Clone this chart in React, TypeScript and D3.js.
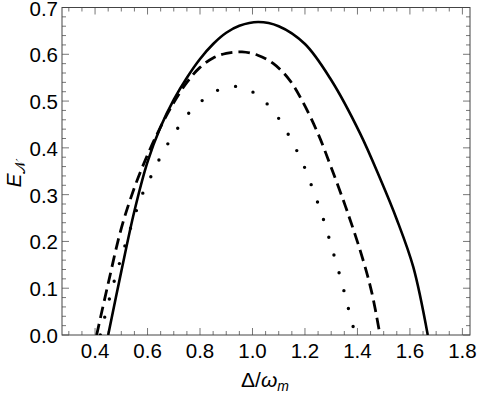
import React, { useEffect, useRef } from 'react';
import * as d3 from 'd3';

// curves: x = Δ/ωm, y = E_N
const solidX = [0.45, 0.5, 0.55, 0.6, 0.65, 0.7, 0.75, 0.8, 0.85, 0.9, 0.95, 1.022, 1.1, 1.2, 1.3, 1.41, 1.486, 1.55, 1.613, 1.668];
const solidY = [0, 0.136, 0.265, 0.37, 0.445, 0.503, 0.55, 0.59, 0.622, 0.646, 0.661, 0.669, 0.66, 0.622, 0.545, 0.431, 0.335, 0.247, 0.145, 0];

const dashedX = [0.406, 0.45, 0.5, 0.55, 0.6, 0.65, 0.7, 0.75, 0.8, 0.85, 0.9, 0.96, 1.02, 1.08, 1.14, 1.19, 1.25, 1.3, 1.36, 1.42, 1.455, 1.486];
const dashedY = [0, 0.11, 0.228, 0.315, 0.385, 0.445, 0.497, 0.54, 0.572, 0.592, 0.602, 0.605, 0.598, 0.58, 0.546, 0.5, 0.43, 0.358, 0.266, 0.163, 0.09, 0];

const dottedX = [0.42, 0.455, 0.495, 0.584, 0.616, 0.648, 0.682, 0.72, 0.762, 0.815, 0.876, 0.944, 1.011, 1.064, 1.107, 1.143, 1.175, 1.204, 1.229, 1.253, 1.275, 1.295, 1.315, 1.334, 1.352, 1.369, 1.392];
const dottedY = [0, 0.078, 0.157, 0.306, 0.342, 0.379, 0.413, 0.446, 0.477, 0.504, 0.525, 0.531, 0.516, 0.489, 0.457, 0.422, 0.387, 0.351, 0.313, 0.276, 0.239, 0.201, 0.162, 0.125, 0.087, 0.049, 0];

const xTicks = [0.4, 0.6, 0.8, 1.0, 1.2, 1.4, 1.6, 1.8];
const yTicks = [0.0, 0.1, 0.2, 0.3, 0.4, 0.5, 0.6, 0.7];

export default function App() {
    const svgRef = useRef<SVGSVGElement | null>(null);

    useEffect(() => {
        if (!svgRef.current) return;
        const svg = d3.select(svgRef.current);
        svg.selectAll('*').remove();

        const width = 477;
        const height = 393;
        const margin = { top: 7.5, right: 7, bottom: 58, left: 62 };
        const font = 'Liberation Sans, Arial, sans-serif';

        const x = d3.scaleLinear().domain([0.274, 1.829]).range([margin.left, width - margin.right]);
        const y = d3.scaleLinear().domain([0, 0.7]).range([height - margin.bottom, margin.top]);

        const x0 = margin.left, x1 = width - margin.right;
        const y0 = height - margin.bottom, y1 = margin.top;

        // clip
        svg.append('defs').append('clipPath').attr('id', 'plot')
            .append('rect').attr('x', x0).attr('y', y1).attr('width', x1 - x0).attr('height', y0 - y1);

        // ticks (inward, all sides)
        const tickColor = '#777';
        const xMinor = d3.range(0.3, 1.83, 0.05);
        const yMinor = d3.range(0, 0.701, 0.02);
        const g = svg.append('g').attr('stroke', tickColor).attr('stroke-width', 1);
        xMinor.forEach(v => {
            const major = xTicks.some(t => Math.abs(t - v) < 1e-6);
            const len = major ? 7 : 4;
            g.append('line').attr('x1', x(v)).attr('x2', x(v)).attr('y1', y0).attr('y2', y0 - len);
            g.append('line').attr('x1', x(v)).attr('x2', x(v)).attr('y1', y1).attr('y2', y1 + len);
        });
        yMinor.forEach(v => {
            const major = yTicks.some(t => Math.abs(t - v) < 1e-6);
            const len = major ? 7 : 4;
            g.append('line').attr('y1', y(v)).attr('y2', y(v)).attr('x1', x0).attr('x2', x0 + len);
            g.append('line').attr('y1', y(v)).attr('y2', y(v)).attr('x1', x1).attr('x2', x1 - len);
        });

        // frame
        svg.append('rect')
            .attr('x', x0).attr('y', y1).attr('width', x1 - x0).attr('height', y0 - y1)
            .attr('fill', 'none').attr('stroke', '#444').attr('stroke-width', 1);

        // tick labels
        svg.selectAll('.xt').data(xTicks).join('text')
            .attr('x', d => x(d)).attr('y', y0 + 23)
            .attr('text-anchor', 'middle').attr('font-family', font).attr('font-size', 20.5)
            .text(d => d.toFixed(1));
        svg.selectAll('.yt').data(yTicks).join('text')
            .attr('x', x0 - 4).attr('y', d => y(d) + 8)
            .attr('text-anchor', 'end').attr('font-family', font).attr('font-size', 20.5)
            .text(d => d.toFixed(1));

        // curves
        const line = d3.line<[number, number]>()
            .x(d => x(d[0])).y(d => y(d[1]))
            .curve(d3.curveCatmullRom.alpha(0.5));
        const plot = svg.append('g').attr('clip-path', 'url(#plot)');

        plot.append('path').attr('d', line(d3.zip(solidX, solidY) as [number, number][]))
            .attr('fill', 'none').attr('stroke', '#000').attr('stroke-width', 2.6);
        plot.append('path').attr('d', line(d3.zip(dashedX, dashedY) as [number, number][]))
            .attr('fill', 'none').attr('stroke', '#000').attr('stroke-width', 2.8)
            .attr('stroke-dasharray', '11.5,6');
        plot.append('path').attr('d', line(d3.zip(dottedX, dottedY) as [number, number][]))
            .attr('fill', 'none').attr('stroke', '#000').attr('stroke-width', 3.4)
            .attr('stroke-linecap', 'round').attr('stroke-dasharray', '0,18.5');

        // axis labels
        const xl = svg.append('text').attr('x', 265).attr('y', 387)
            .attr('text-anchor', 'middle').attr('font-family', font).attr('font-size', 21);
        xl.append('tspan').text('Δ/');
        xl.append('tspan').attr('font-style', 'italic').text('ω');
        xl.append('tspan').attr('font-style', 'italic').attr('font-size', 14).attr('dy', 4).text('m');

        const yl = svg.append('text').attr('transform', 'translate(21,174) rotate(-90)')
            .attr('text-anchor', 'middle').attr('font-family', font).attr('font-size', 21);
        yl.append('tspan').attr('font-style', 'italic').text('E');
        yl.append('tspan').attr('font-size', 14).attr('dy', 4).text('𝒩');
    }, []);

    return (
        <svg ref={svgRef} width={477} height={393} viewBox="0 0 477 393"
            style={{ position: 'absolute', left: 0, top: 0, background: '#fff' }} />
    );
}
